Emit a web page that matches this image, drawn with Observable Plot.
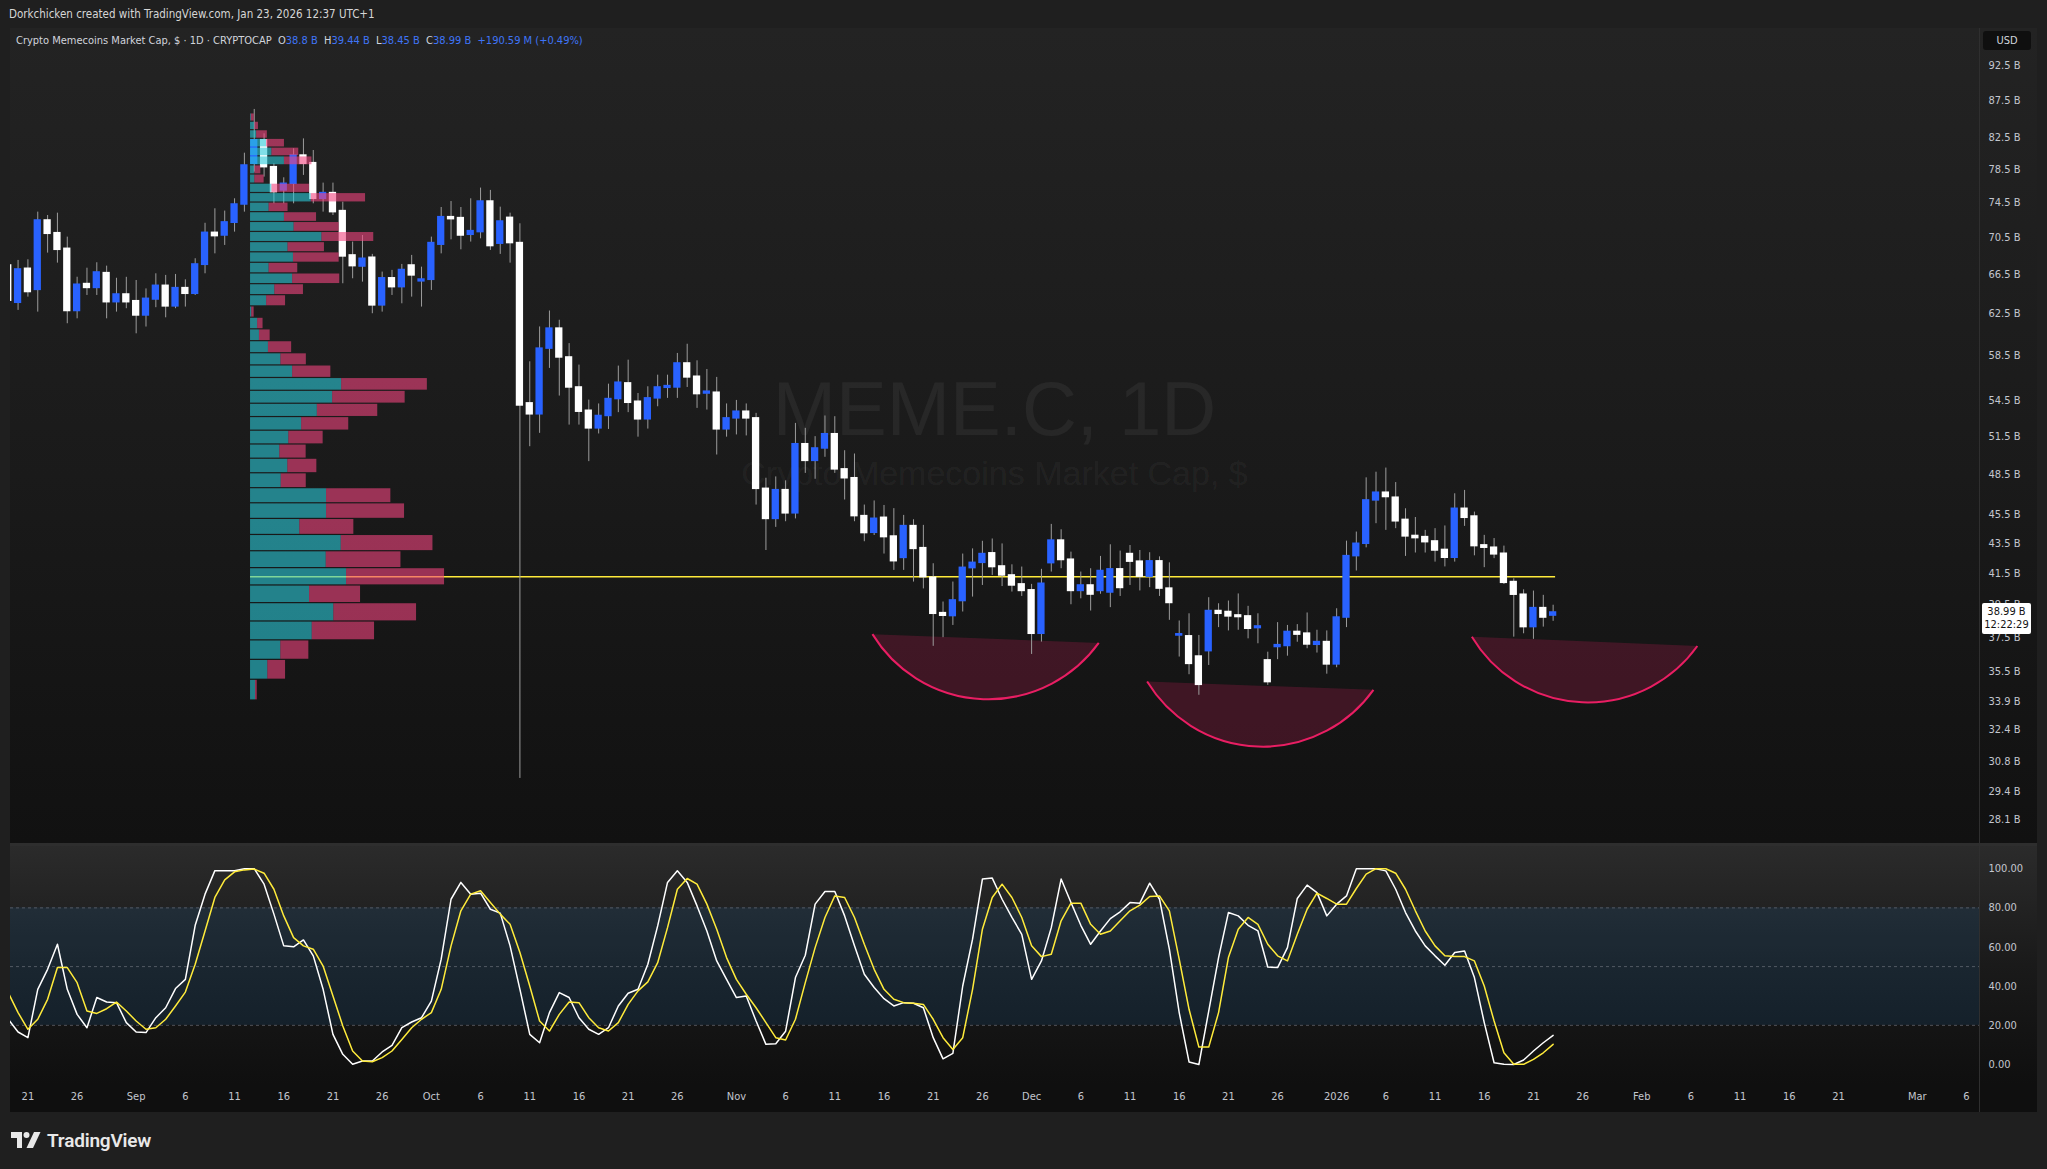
<!DOCTYPE html>
<html><head><meta charset="utf-8">
<script src="https://cdn.jsdelivr.net/npm/d3@7"></script>
<script src="https://cdn.jsdelivr.net/npm/@observablehq/plot@0.6"></script>
<style>
  html, body { margin:0; padding:0; background:#1f1f1f; }
  body { width:2047px; height:1169px; position:relative; overflow:hidden;
         font-family:"Liberation Sans Narrow","DejaVu Sans Condensed","Roboto Condensed",Roboto,"Liberation Sans",sans-serif; color:#d1d4dc; }
  .abs { position:absolute; }
  #header { left:9px; top:6px; font-size:11.5px; line-height:16px; color:#d6d6d6; white-space:nowrap; }
  #frame { left:10px; top:28px; width:2027px; height:1084px; }
  #pricePane { left:0; top:0; width:2027px; height:815px; background:linear-gradient(#232323, #1a1a1a 55%, #111111); }
  #sep { left:0; top:815px; width:2027px; height:3px; background:#2e2e2e; }
  #stochPane { left:0; top:818px; width:2027px; height:238px; background:linear-gradient(#2b2b2b, #1a1a1a 50%, #0f0f0f); }
  #timeAxis { left:0; top:1056px; width:2027px; height:28px; background:#0f0f0f; }
  #vsep { left:1969px; top:0; width:1px; height:1084px; background:#2f2f2f; }
  .wm1 { left:0; width:1969px; text-align:center; font-family:"Liberation Sans",Arial,sans-serif; color:rgba(255,255,255,0.055); white-space:nowrap; }
  #legend { left:6px; top:6px; font-size:11px; line-height:14px; color:#d1d4dc; white-space:nowrap; }
  #legend b { font-weight:normal; color:#3f75f7; }
  #usd { left:1973px; top:3px; width:48px; height:19px; background:#0f0f0f; border-radius:3px; font-size:11px; line-height:19px; text-align:center; color:#d1d4dc; }
  #lastBox { left:1972px; width:49px; height:31px; background:#ffffff; border-radius:2px; color:#131313; font-size:11px; line-height:13px; padding-top:2px; box-sizing:border-box; text-align:center; }
  #footer { left:11px; top:1129px; height:22px; display:flex; align-items:center; gap:6px; }
  #footer span { font-family:Roboto,"Liberation Sans",sans-serif; font-weight:600; font-size:19px; color:#e8e8e8; letter-spacing:-0.2px; }
  .holder svg { max-width:none !important; position:absolute; left:0; top:0; }
</style>
</head>
<body>
<div id="header" class="abs">Dorkchicken created with TradingView.com, Jan 23, 2026 12:37 UTC+1</div>
<div id="frame" class="abs">
  <div id="pricePane" class="abs">
    <div class="abs wm1" style="top:338px;font-size:76px;line-height:86px;">MEME.C, 1D</div>
    <div class="abs wm1" style="top:425px;font-size:34px;line-height:40px;">Crypto Memecoins Market Cap, $</div>
  </div>
  <div id="sep" class="abs"></div>
  <div id="stochPane" class="abs"></div>
  <div id="timeAxis" class="abs"></div>
  <div id="vsep" class="abs"></div>
  <div id="priceHolder" class="abs holder" style="left:0;top:0;width:2027px;height:815px;"></div>
  <div id="stochHolder" class="abs holder" style="left:0;top:818px;width:2027px;height:266px;"></div>
  <div id="legend" class="abs">Crypto Memecoins Market Cap, $ · 1D · CRYPTOCAP&nbsp;&nbsp;O<b>38.8 B</b>&nbsp;&nbsp;H<b>39.44 B</b>&nbsp;&nbsp;L<b>38.45 B</b>&nbsp;&nbsp;C<b>38.99 B</b>&nbsp;&nbsp;<b>+190.59 M (+0.49%)</b></div>
  <div id="usd" class="abs">USD</div>
  <div id="lastBox" class="abs"><div>38.99 B</div><div>12:22:29</div></div>
</div>
<div id="footer" class="abs">
  <svg width="30" height="16" viewBox="0 0 30 16"><path d="M0 0H11V16H6V6H0Z" fill="#e8e8e8"/><circle cx="15.5" cy="3" r="3" fill="#e8e8e8"/><path d="M23 0H29.5L22 16H15.5Z" fill="#e8e8e8"/></svg>
  <span>TradingView</span>
</div>
<script>
// ---------- DATA ----------
const firstCandleDate = "2025-08-19";   // daily candles, consecutive days
const open = [
67.45,63.59,67.1,64.9,72.42,70.98,69.25,62.77,65.5,65.1,
66.64,63.65,64.43,63.75,62.33,63.92,65.32,63.23,65.08,64.5,
67.52,71.02,70.72,72.16,74.27,79.2,82.2,78.78,75.94,76.74,
80.24,79.28,74.94,75.62,73.5,68.53,67.34,68.28,63.33,66.1,
65.18,67.45,65.78,65.94,69.7,72.8,72.69,70.8,71.1,74.62,
69.81,72.72,69.88,54.25,53.32,59.15,61.05,58.33,55.63,53.62,
52.15,53.18,54.62,55.99,54.39,52.9,54.68,55.6,55.63,57.78,
56.58,55.1,55.17,52.07,52.98,53.54,52.98,47.4,45.2,47.3,
45.6,50.86,49.54,50.52,51.67,48.88,48.2,45.4,44.22,45.28,
43.96,42.5,44.69,43.16,41.19,38.95,38.77,39.7,41.82,42.17,
42.81,41.93,41.34,40.76,40.38,37.7,42.15,43.68,42.38,40.34,
40.69,40.34,40.24,41.74,42.76,42.25,41.26,42.27,40.49,37.6,
37.55,36.37,36.68,39.08,39.02,38.81,38.75,38.04,36.15,36.92,
36.98,37.81,37.71,37.05,37.21,35.92,38.68,42.62,43.46,46.54,
47.11,46.74,45.13,44.0,43.92,43.62,43.04,42.51,45.93,45.37,
43.35,43.19,42.78,40.91,40.1,38.1,39.26,38.8];
const high = [
68.9,67.99,68.06,73.38,72.99,73.26,70.54,66.21,67.16,67.74,
67.38,66.1,66.2,65.87,65.0,66.57,66.4,66.5,65.94,68.17,
72.1,73.77,73.5,74.94,80.54,86.3,83.04,79.2,77.47,81.1,
82.38,80.88,76.82,76.82,74.54,69.99,70.72,68.64,66.75,66.93,
67.56,68.53,67.27,70.54,73.92,74.62,73.92,74.94,76.22,75.94,
73.96,73.26,72.04,57.93,61.21,62.77,61.86,59.62,57.63,54.53,
54.2,55.92,57.54,58.08,55.1,55.69,56.72,56.72,58.7,59.56,
58.02,57.23,56.52,54.2,54.5,54.2,53.4,48.2,48.3,48.0,
52.56,52.15,51.47,53.18,53.12,50.34,50.08,46.2,46.5,46.17,
45.94,45.45,45.14,44.74,42.11,39.64,40.91,42.76,43.11,43.63,
43.79,43.45,42.04,41.89,40.76,41.74,44.81,44.43,42.89,41.56,
41.78,42.6,43.39,42.96,43.34,43.0,42.85,42.57,42.17,38.47,
38.91,37.6,39.91,39.53,39.7,40.15,39.37,38.91,36.62,38.37,
38.2,38.25,38.96,37.91,37.87,39.22,43.64,44.27,48.23,48.66,
48.98,47.87,45.93,45.3,44.39,44.51,44.7,47.03,47.28,45.69,
44.04,43.82,43.3,41.12,40.41,40.33,40.06,39.44];
const low = [
63.2,62.83,64.16,62.66,68.78,67.7,61.52,62.0,64.33,64.33,
62.0,62.66,63.0,60.55,61.2,63.1,62.1,63.0,63.16,64.33,
66.57,68.7,69.62,71.1,73.38,78.17,77.55,74.35,74.35,74.35,
77.76,74.35,73.38,72.99,65.53,66.05,65.7,62.5,62.66,64.33,
63.49,64.16,63.16,64.84,68.7,70.24,69.14,69.99,70.35,69.07,
68.64,67.7,30.0,50.66,51.74,57.33,54.88,52.42,52.42,49.48,
51.69,52.06,53.46,53.46,51.43,52.09,53.96,54.68,54.68,55.63,
53.82,53.68,50.0,51.43,51.61,51.53,46.2,43.0,44.6,45.0,
45.2,48.57,48.12,49.82,48.57,46.57,45.0,43.6,44.03,42.76,
41.67,41.67,40.91,40.47,36.96,37.47,38.2,39.02,39.95,40.69,
41.34,40.62,40.27,39.99,36.49,37.21,41.56,41.78,39.47,39.84,
39.08,40.13,39.29,39.99,40.69,40.34,40.55,39.99,38.51,36.34,
35.34,34.21,35.86,38.07,37.87,37.91,37.4,37.11,34.75,36.19,
36.39,37.2,36.82,36.57,35.37,35.73,38.07,41.63,43.18,44.86,
44.39,44.51,42.6,42.83,42.83,42.22,41.9,42.22,44.67,42.64,
41.85,42.45,40.75,37.5,37.7,37.37,38.1,38.45];
const close = [
63.8,67.03,64.68,72.42,70.91,69.14,62.77,65.43,65.1,66.71,
63.65,64.43,63.65,62.33,63.99,65.32,63.23,65.08,64.5,67.56,
71.02,70.65,72.2,74.27,78.99,82.2,78.78,75.74,76.74,80.24,
79.2,74.94,75.62,73.38,68.42,67.38,68.17,63.33,66.1,65.18,
66.97,66.4,65.97,69.88,72.8,72.57,70.72,71.21,74.62,69.55,
72.3,69.88,54.07,53.32,59.15,61.05,58.33,55.63,53.54,52.15,
53.18,54.62,56.05,54.3,52.9,54.68,55.63,55.75,57.78,56.52,
55.05,55.26,52.07,52.98,53.54,52.98,47.4,45.2,47.3,45.6,
50.86,49.54,50.52,51.67,48.88,48.2,45.4,44.2,45.21,43.92,
42.28,44.69,43.11,41.23,38.91,38.79,39.74,41.84,42.17,42.76,
41.89,41.34,40.69,40.34,37.7,40.8,43.68,42.36,40.34,40.69,
40.11,41.63,41.74,40.53,42.25,41.26,42.27,40.49,39.58,37.67,
35.95,34.78,39.08,38.91,38.75,38.71,38.0,38.14,34.93,37.03,
37.81,37.65,37.07,37.21,35.92,38.68,42.62,43.46,46.54,47.11,
46.79,45.03,43.97,43.85,43.57,43.0,42.51,45.93,45.28,43.3,
43.19,42.74,40.86,40.1,38.1,39.26,38.68,38.99];

// Stochastic RSI %K (white) and %D (yellow), same days as the candles
const stochK = [
23.1,16.6,13.7,38.4,48.6,61.4,38.4,25.6,18.8,34.2,
31.9,31.6,21.4,16.6,16.3,23.9,29.0,38.8,43.5,71.1,
87.0,99,99,99,100,100,92.1,76.8,60.6,60.1,
63.6,55.5,38.4,15.4,5.2,0.1,1.8,1.8,6.4,9.8,
18.8,21.7,23.9,32.4,53.8,84.4,93.0,87.0,87.5,79.3,
77.3,60.6,38.4,15.4,11.1,26.5,36.7,34.2,23.9,18.0,
15.4,18.8,29.9,36.4,38.4,51.2,70.8,93.0,98.9,93.0,
81.0,68.2,52.9,43.5,34.2,35.0,22.2,10.3,10.6,17,
44.4,55.8,81.9,88.4,88.4,75.9,60.6,46.1,39.3,33.6,
29.9,31.6,31.3,29.0,13.7,2.9,5.7,40.1,64.0,94.7,
95.2,84.4,75.1,66.5,43.5,52.9,69.9,94.7,82.7,71.1,
61.4,68.2,74.5,78.0,82.7,82.4,92.6,84.4,58.9,26.5,
1.3,0,27.3,54.6,77.6,75.9,71.1,68.2,49.8,49.5,
59.7,84.8,91.6,87.8,75.9,81.9,86.1,100,100,100,
98.9,89.5,77.6,68.2,60.6,55.5,50.7,57.2,58.0,44.4,
21.4,0.9,0.1,0,2.3,6.9,11.1,14.9];
const stochD = [
36.7,26.5,18.0,23.1,33.3,49.5,49.5,41.8,27.3,26.1,
28.5,31.9,27.3,22.2,18.0,18.8,23.1,29.9,37.0,51.2,
68.2,85.3,94.3,98.4,99.4,99.8,97.7,89.5,75.9,64.8,
60.6,58.9,50.3,35.0,19.7,6.9,1.8,1.4,3.5,6.9,
12.8,18.8,23.1,26.5,38.4,60.6,78.5,87.0,88.7,82.7,
76.8,71.6,57.2,40.1,22.2,17.1,25.6,31.9,31.6,23.9,
18.8,17.1,21.4,30.7,37.6,42.2,52.0,69.9,89.5,95.0,
92.1,81.9,69.1,54.6,43.5,35.9,29.0,21.4,13.7,12.5,
23.1,41.8,59.7,75.1,86.1,85.3,75.1,61.4,48.6,38.4,
33.3,31.6,31.3,30.7,23.1,13.7,7.7,13.7,38.4,69.1,
85.3,92.1,85.3,75.1,60.6,55.1,56.3,73.4,82.4,82.4,
71.6,66.5,68.2,73.4,78.5,81.4,85.8,86.1,78.5,53.8,
28.2,8.9,8.9,26.5,54.6,69.1,75.1,71.6,61.4,55.5,
52.9,66.5,79.3,87.5,84.8,81.9,81.9,89.9,97.2,100,
100,97.7,89.5,78.5,68.2,60.6,55.5,55.1,55.1,52.9,
40.1,22.2,6.0,0.1,0.1,2.6,6.0,10.3];

// Volume profile rows (price edges in B) with up (teal) and down (red) volume
const profileEdges = [33.93,35.06,36.18,37.31,38.44,39.57,40.69,41.82,42.95,44.07,45.20,46.33,47.45,48.58,49.71,50.84,51.96,53.09,54.22,55.34,56.47,57.60,58.72,59.85,60.98,62.11,63.23,64.36,65.49,66.61,67.74,68.87,69.99,71.12,72.25,73.38,74.50,75.63,76.76,77.88,79.01,80.14,81.26,82.39,83.52,84.65,85.77];
const profileUp   = [5,17.3,30.3,61.7,83.3,59,96,75.7,90.7,49.3,76,76,30.7,37.3,29.3,38.3,51.1,66.8,82.1,91.1,42.1,30.4,17.9,8.9,7.1,1.2,16.1,24.3,42.1,18.6,42.9,37.5,71.4,43.6,33.9,18.6,60.7,21.4,4.3,4.3,33.9,21.4,16,6.1,4.3,0.8];
const profileDown = [1.7,17.7,28,62.3,82.7,51,98,74.7,91.7,54,78,64.3,25,29,26.3,34.3,47.1,60.4,72.5,85.7,38.2,25.4,23.2,10.7,5.4,2.4,18.9,28.6,47.1,28.6,45.7,36.4,51.8,45,32.1,18.9,54.3,37.5,9.3,6,27.5,26.8,17.9,10.7,3.6,2.9];
const profileAnchor = "2025-09-12T15:00Z";
const pocPrice = 41.25;
const pocEnd = "2026-01-23T06:00Z";

// Arc drawings: start, bottom and end anchors
const arcStart  = ["2025-11-14T21:00Z", "2025-12-12T19:00Z", "2026-01-14T19:00Z"];
const arcStartP = [37.65, 34.93, 37.50];
const arcMid    = ["2025-11-26T12:00Z", "2025-12-24T12:00Z", "2026-01-26T10:00Z"];
const arcMidP   = [33.97, 31.52, 33.80];
const arcEnd    = ["2025-12-07T21:00Z", "2026-01-04T19:00Z", "2026-02-06T17:00Z"];
const arcEndP   = [37.13, 34.48, 36.95];

const priceTicks = [92.5,87.5,82.5,78.5,74.5,70.5,66.5,62.5,58.5,54.5,51.5,48.5,45.5,43.5,41.5,39.5,37.5,35.5,33.9,32.4,30.8,29.4,28.1];
const stochTicks = [100,80,60,40,20,0];
const stochLevels = [80,50,20];
const stochBand = [{lo:20, hi:80}];
const lastPrice = 38.99;

const xTickDates = ["2025-08-21","2025-08-26","2025-09-01","2025-09-06","2025-09-11","2025-09-16","2025-09-21","2025-09-26",
  "2025-10-01","2025-10-06","2025-10-11","2025-10-16","2025-10-21","2025-10-26","2025-11-01","2025-11-06","2025-11-11",
  "2025-11-16","2025-11-21","2025-11-26","2025-12-01","2025-12-06","2025-12-11","2025-12-16","2025-12-21","2025-12-26",
  "2026-01-01","2026-01-06","2026-01-11","2026-01-16","2026-01-21","2026-01-26","2026-02-01","2026-02-06","2026-02-11",
  "2026-02-16","2026-02-21","2026-03-01","2026-03-06"];
const xTickLabels = ["21","26","Sep","6","11","16","21","26","Oct","6","11","16","21","26","Nov","6","11","16","21","26",
  "Dec","6","11","16","21","26","2026","6","11","16","21","26","Feb","6","11","16","21","Mar","6"];

// ---------- BUILD ----------
const DAY = 86400000;
const t0 = new Date(firstCandleDate + "T00:00Z").getTime();
const candles = open.map((o, i) => ({date: new Date(t0 + i * DAY), open: o, high: high[i], low: low[i], close: close[i]}));
const stoch = stochK.map((k, i) => ({date: new Date(t0 + i * DAY), k, d: stochD[i]}));
const refDay = Date.UTC(2025, 7, 21);
const xDomain = [new Date(refDay - 1.77 * DAY), new Date(refDay + 198.33 * DAY)];

const FONT = '"Liberation Sans Narrow","DejaVu Sans Condensed","Roboto Condensed",Roboto,"Liberation Sans",sans-serif';
const W = 2027, MR = 58;
const UP = "#2962ff", DOWN = "#ffffff", WICK = "#9c9c9c";
const HALF = 0.37 * DAY;
const pxUnit = DAY / 9.84; // profile volume unit -> time width
const pStart = new Date(profileAnchor);
const profile = profileUp.map((u, i) => ({lo: profileEdges[i], hi: profileEdges[i + 1], up: u, down: profileDown[i]}));
const arcs = arcStart.map((s, i) => ({s: new Date(s), sp: arcStartP[i], m: new Date(arcMid[i]), mp: arcMidP[i], e: new Date(arcEnd[i]), ep: arcEndP[i]}));
const labelMap = new Map(xTickDates.map((d, i) => [new Date(d + "T00:00Z").getTime(), xTickLabels[i]]));

function circle3(a, b, c) {
  const d = 2 * (a[0] * (b[1] - c[1]) + b[0] * (c[1] - a[1]) + c[0] * (a[1] - b[1]));
  const A = a[0] ** 2 + a[1] ** 2, B = b[0] ** 2 + b[1] ** 2, C = c[0] ** 2 + c[1] ** 2;
  const ux = (A * (b[1] - c[1]) + B * (c[1] - a[1]) + C * (a[1] - b[1])) / d;
  const uy = (A * (c[0] - b[0]) + B * (a[0] - c[0]) + C * (b[0] - a[0])) / d;
  return [ux, uy, Math.hypot(a[0] - ux, a[1] - uy)];
}
function arcsMark(index, scales) {
  const g = d3.create("svg:g");
  for (const a of arcs) {
    const p1 = [scales.x(a.s), scales.y(a.sp)], p2 = [scales.x(a.e), scales.y(a.ep)], p3 = [scales.x(a.m), scales.y(a.mp)];
    const [, , r] = circle3(p1, p2, p3);
    const arc = `M${p1[0]},${p1[1]}A${r},${r} 0 0 0 ${p2[0]},${p2[1]}`;
    g.append("path").attr("d", arc + "Z").attr("fill", "#e91e63").attr("fill-opacity", 0.2);
    g.append("path").attr("d", arc).attr("fill", "none").attr("stroke", "#e91e63").attr("stroke-width", 2);
  }
  return g.node();
}

const pricePlot = Plot.plot({
  width: W, height: 815, marginLeft: 0, marginRight: MR, marginTop: 0, marginBottom: 0,
  style: {background: "transparent", fontFamily: FONT, fontSize: "11px", color: "#c3c6ce", overflow: "visible"},
  x: {type: "utc", domain: xDomain, axis: null},
  y: {type: "log", domain: [27.07, 98.07], axis: null},
  marks: [
    arcsMark,
    Plot.ruleY([pocPrice], {y: d => d, x1: () => pStart, x2: () => new Date(pocEnd), stroke: "#ffeb3b", strokeWidth: 1.5}),
    Plot.ruleX(candles, {x: "date", y1: "low", y2: "high", stroke: WICK, strokeWidth: 1, clip: true}),
    Plot.rect(candles.filter(d => d.close >= d.open), {x1: d => new Date(+d.date - HALF), x2: d => new Date(+d.date + HALF), y1: "open", y2: "close", fill: UP, insetTop: -0.75, insetBottom: -0.75, clip: true}),
    Plot.rect(candles.filter(d => d.close < d.open), {x1: d => new Date(+d.date - HALF), x2: d => new Date(+d.date + HALF), y1: "open", y2: "close", fill: DOWN, insetTop: -0.75, insetBottom: -0.75, clip: true}),
    Plot.rect(profile, {x1: () => pStart, x2: d => new Date(+pStart + d.up * pxUnit), y1: "lo", y2: "hi", fill: "#2bc9d9", fillOpacity: 0.6, insetTop: 0.6, insetBottom: 0.6}),
    Plot.rect(profile, {x1: d => new Date(+pStart + d.up * pxUnit), x2: d => new Date(+pStart + (d.up + d.down) * pxUnit), y1: "lo", y2: "hi", fill: "#f2457f", fillOpacity: 0.6, insetTop: 0.6, insetBottom: 0.6}),
    Plot.axisY({anchor: "right", ticks: priceTicks, tickFormat: d => d.toFixed(1) + " B", tickSize: 0, tickPadding: 9})
  ]
});
document.getElementById("priceHolder").appendChild(pricePlot);

const stochPlot = Plot.plot({
  width: W, height: 266, marginLeft: 0, marginRight: MR, marginTop: 0, marginBottom: 28,
  style: {background: "transparent", fontFamily: FONT, fontSize: "11px", color: "#c3c6ce", overflow: "visible"},
  x: {type: "utc", domain: xDomain, axis: null},
  y: {domain: [-10.21, 111.34], axis: null},
  marks: [
    Plot.rect(stochBand, {y1: "lo", y2: "hi", fill: "#2196f3", fillOpacity: 0.1}),
    Plot.ruleY(stochLevels, {stroke: "#787b86", strokeOpacity: 0.6, strokeDasharray: "3,3"}),
    Plot.line(stoch, {x: "date", y: "k", stroke: "#ffffff", strokeWidth: 1.5, clip: true}),
    Plot.line(stoch, {x: "date", y: "d", stroke: "#ffeb3b", strokeWidth: 1.5, clip: true}),
    Plot.axisY({anchor: "right", ticks: stochTicks, tickFormat: d => d.toFixed(2), tickSize: 0, tickPadding: 9}),
    Plot.axisX({anchor: "bottom", ticks: xTickDates.map(d => new Date(d + "T00:00Z")), tickFormat: d => labelMap.get(+d), tickSize: 0, tickPadding: 8})
  ]
});
document.getElementById("stochHolder").appendChild(stochPlot);

// last price label, placed through the price scale
const yLast = pricePlot.scale("y").apply(lastPrice);
document.getElementById("lastBox").style.top = (yLast - 9) + "px";
</script>
</body></html>
